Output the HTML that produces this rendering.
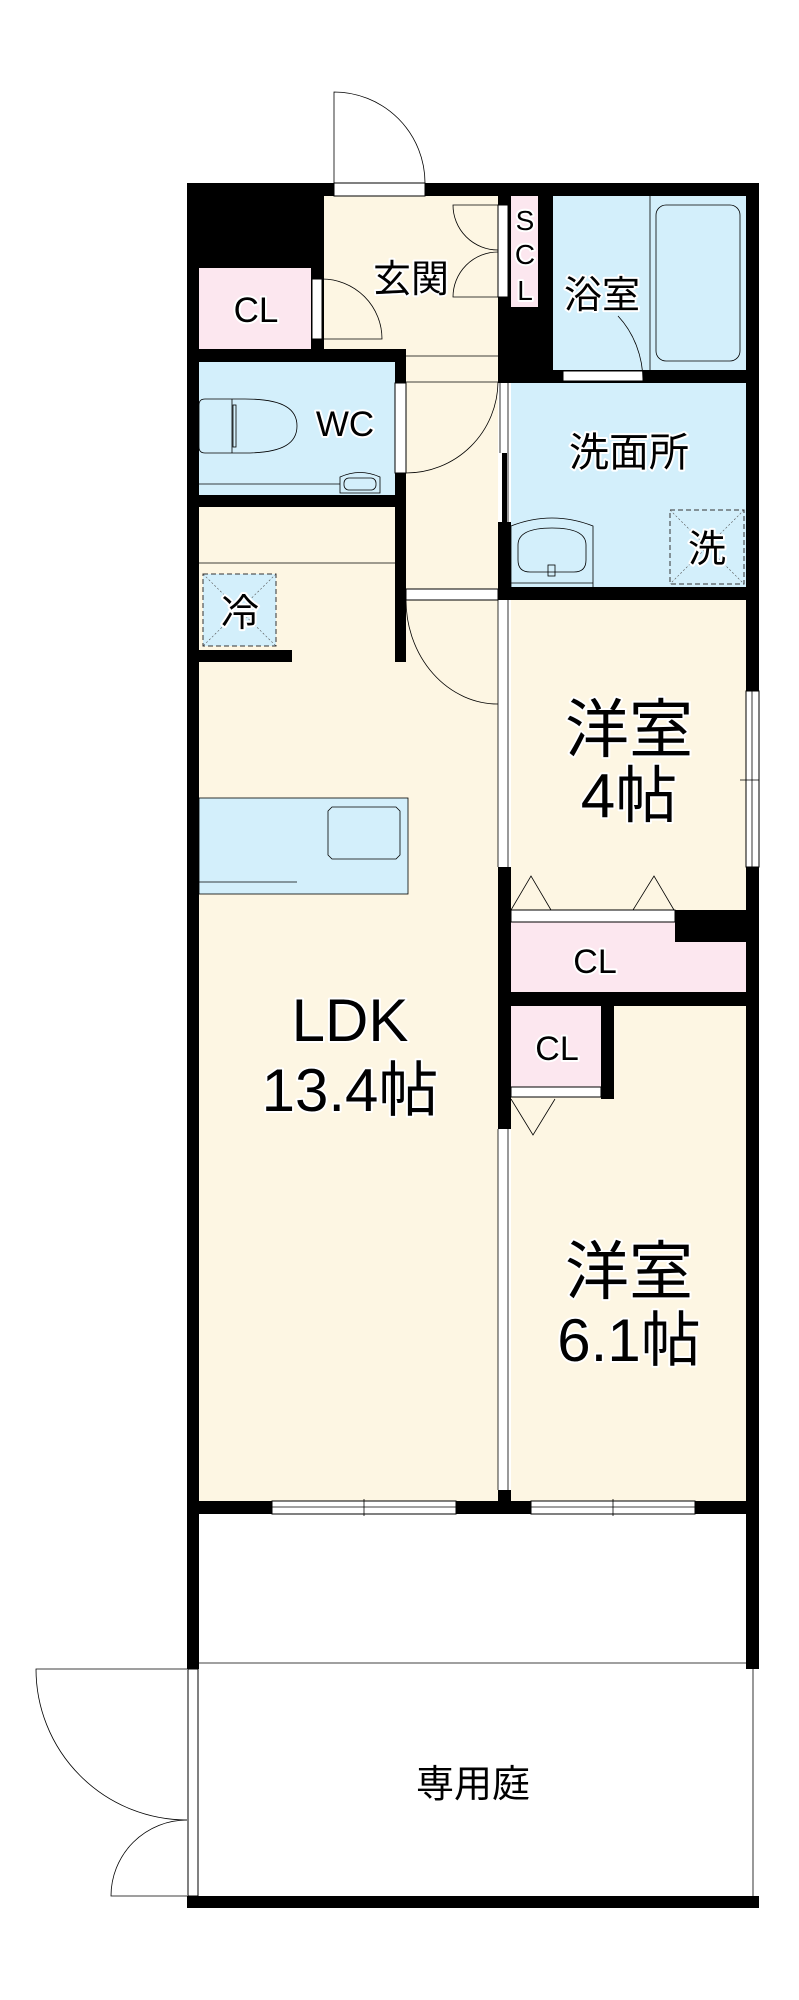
<!DOCTYPE html>
<html><head><meta charset="utf-8"><style>
html,body{margin:0;padding:0;background:#fff;width:799px;height:2000px;overflow:hidden}
svg{display:block}
text{font-family:"Liberation Sans","Noto Sans CJK JP",sans-serif;fill:#000;paint-order:stroke;stroke:#fff;stroke-width:4px;stroke-linejoin:round}
</style></head><body>
<svg width="799" height="2000" viewBox="0 0 799 2000" xmlns="http://www.w3.org/2000/svg">
<g stroke="none">
<rect x="199" y="196" width="299" height="1305" fill="#fdf6e3"/>
<rect x="511" y="600" width="235" height="901" fill="#fdf6e3"/>
<rect x="553" y="196" width="193" height="174" fill="#d3effb"/>
<rect x="511" y="382" width="235" height="205" fill="#d3effb"/>
<rect x="199" y="362" width="196" height="133" fill="#d3effb"/>
<rect x="199" y="268" width="112" height="81" fill="#fce7ef"/>
<rect x="511" y="922" width="235" height="70" fill="#fce7ef"/>
<rect x="511" y="1006" width="90" height="81" fill="#fce7ef"/>
<g fill="#000">
<rect x="187" y="183" width="572" height="13"/>
<rect x="187" y="183" width="12" height="1486"/>
<rect x="746" y="183" width="13" height="508"/>
<rect x="746" y="867" width="13" height="802"/>
<rect x="187" y="183" width="137" height="85"/>
<rect x="311" y="268" width="13" height="81"/>
<rect x="498" y="183" width="55" height="200"/>
<rect x="538" y="370" width="221" height="13"/>
<rect x="187" y="349" width="219" height="13"/>
<rect x="395" y="349" width="11" height="313"/>
<rect x="187" y="495" width="219" height="12"/>
<rect x="199" y="650" width="93" height="12"/>
<rect x="498" y="587" width="261" height="13"/>
<rect x="498" y="867" width="13" height="262"/>
<rect x="675" y="910" width="84" height="32"/>
<rect x="498" y="992" width="261" height="14"/>
<rect x="601" y="1006" width="13" height="93"/>
<rect x="187" y="1501" width="572" height="13"/>
<rect x="498" y="1490" width="13" height="24"/>
<rect x="502" y="453" width="5" height="69"/>
<rect x="498" y="522" width="13" height="78"/>
<rect x="187" y="1896" width="572" height="12"/>
</g>
<rect x="511" y="196" width="27" height="111" fill="#fce7ef"/>
</g>
<g fill="#fff" stroke="#000" stroke-width="1">
<rect x="334" y="183" width="91" height="13"/>
<rect x="498" y="205" width="10" height="92"/>
<rect x="312" y="279" width="10" height="60"/>
<rect x="395" y="383" width="11" height="90"/>
<rect x="563" y="371" width="80" height="10"/>
<rect x="406" y="589" width="92" height="11"/>
<rect x="511" y="910" width="164" height="12"/>
<rect x="511" y="1087" width="90" height="10"/>
<rect x="746" y="691" width="13" height="176"/>
<rect x="272" y="1501" width="184" height="13"/>
<rect x="531" y="1501" width="164" height="13"/>
<rect x="188" y="1669" width="10" height="227"/>
</g>
<g fill="none" stroke="#000" stroke-width="0.8">
<line x1="752" y1="691" x2="752" y2="867"/><line x1="740" y1="780" x2="759" y2="780"/>
<line x1="272" y1="1507" x2="456" y2="1507"/><line x1="364" y1="1499" x2="364" y2="1516"/>
<line x1="531" y1="1507" x2="695" y2="1507"/><line x1="613" y1="1499" x2="613" y2="1516"/>
<line x1="498" y1="600" x2="498" y2="867"/><line x1="508" y1="600" x2="508" y2="867"/>
<line x1="498" y1="1129" x2="498" y2="1490"/><line x1="508" y1="1129" x2="508" y2="1490"/>
<line x1="500" y1="383" x2="500" y2="453"/><line x1="508" y1="383" x2="508" y2="522"/>
<path d="M334 183 V92 A91 91 0 0 1 425 183"/>
<path d="M498 205 H453 A45 45 0 0 0 498 250"/>
<path d="M498 297 H453 A45 45 0 0 1 498 252"/>
<path d="M322 279 A60 60 0 0 1 382 339 H322"/>
<line x1="406" y1="356" x2="498" y2="356"/><line x1="406" y1="382" x2="498" y2="382"/>
<path d="M406 473 A92 92 0 0 0 498 382"/>
<path d="M406 600 A92 104 0 0 0 498 704"/>
<line x1="199" y1="563" x2="395" y2="563"/>
<path d="M643 381 A80 90 0 0 0 618 316"/>
<line x1="650" y1="196" x2="650" y2="370"/>
<rect x="656" y="205" width="84" height="156" rx="10"/>
<path d="M205 399 H245 C285 399 297 410 297 426 C297 442 285 453 245 453 H205 Q199 453 199 447 V405 Q199 399 205 399 Z"/>
<line x1="232" y1="399" x2="232" y2="453"/><rect x="233" y="405" width="3" height="42"/>
<line x1="199" y1="484" x2="340" y2="484"/>
<path d="M340 493 V477 Q360 468 380 477 V493 Z"/><rect x="344" y="478" width="32" height="12" rx="5"/>
<path d="M511 588 V526 Q552 510 593 526 V588 Z"/>
<path d="M530 572 Q518 572 518 560 V545 Q518 528 552 528 Q586 528 586 545 V560 Q586 572 574 572 Z"/>
<rect x="548" y="565" width="7" height="11"/>
<line x1="511" y1="583" x2="593" y2="583"/>
<rect x="199" y="798" width="209" height="96" fill="#d3effb"/>
<path d="M332 807 H396 L400 811 V855 L396 859 H332 L328 855 V811 Z"/>
<line x1="199" y1="882" x2="297" y2="882"/>
<path d="M511 910 L531 876 L551 910 M633 910 L654 876 L674 910"/>
<path d="M511 1099 L533 1135 L555 1099"/>
<line x1="199" y1="1663" x2="746" y2="1663"/>
<line x1="753" y1="1669" x2="753" y2="1896"/>
<path d="M187 1669 H36 A151 151 0 0 0 187 1820"/>
<path d="M187 1896 H111 A76 76 0 0 1 187 1820"/>
</g>
<g fill="none" stroke="#333" stroke-width="1" stroke-dasharray="5,3">
<rect x="203" y="574" width="73" height="72" fill="#d3effb"/>
<rect x="670" y="510" width="74" height="74"/>
</g>
<g stroke="#555" stroke-width="0.6" stroke-dasharray="2,2">
<line x1="203" y1="574" x2="276" y2="646"/><line x1="276" y1="574" x2="203" y2="646"/>
<line x1="670" y1="510" x2="744" y2="584"/><line x1="744" y1="510" x2="670" y2="584"/>
</g>
<g text-anchor="middle">
<text x="411" y="292" font-size="38">玄関</text>
<text x="256" y="322" font-size="35">CL</text>
<text x="525" y="230" font-size="28">S</text>
<text x="525" y="264" font-size="28">C</text>
<text x="525" y="300" font-size="28">L</text>
<text x="602" y="308" font-size="38">浴室</text>
<text x="345" y="436" font-size="35">WC</text>
<text x="629" y="466" font-size="40">洗面所</text>
<text x="707" y="562" font-size="38">洗</text>
<text x="240" y="626" font-size="38">冷</text>
<text x="629" y="752" font-size="64">洋室</text>
<text x="629" y="817" font-size="62">4帖</text>
<text x="595" y="973" font-size="34">CL</text>
<text x="557" y="1060" font-size="34">CL</text>
<text x="350" y="1041" font-size="60">LDK</text>
<text x="350" y="1111" font-size="60">13.4帖</text>
<text x="629" y="1294" font-size="64">洋室</text>
<text x="629" y="1361" font-size="60">6.1帖</text>
<text x="473" y="1797" font-size="38">専用庭</text>
</g>
</svg>
</body></html>
